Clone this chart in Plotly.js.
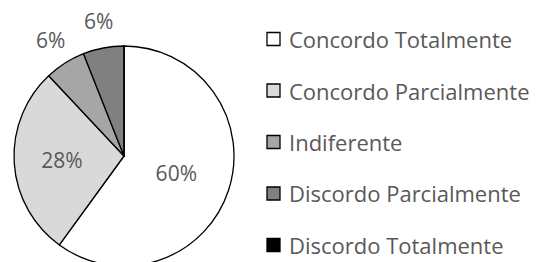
<!DOCTYPE html>
<html>
<head>
<meta charset="utf-8">
<script src="https://cdn.plot.ly/plotly-3.0.1.min.js"></script>
<style>
html,body{margin:0;padding:0;overflow:hidden;background:#fff;}
#chart{width:542px;height:266px;}
</style>
</head>
<body>
<div id="chart"></div>
<script>
const categories = ['Concordo Totalmente','Concordo Parcialmente','Indiferente','Discordo Parcialmente','Discordo Totalmente'];
const values = [60, 28, 6, 6, 0];
const colors = ['#ffffff','#d9d9d9','#a6a6a6','#808080','#000000'];
const labelPlacement = ['inside','inside','outside','outside','none'];

const W = 542, H = 266;
const cx = 124, cy = 156, R = 110;
const FONT = 'Open Sans, sans-serif';
const TXT = '#595959';

const trace = {
  type: 'pie',
  labels: categories,
  values: values,
  sort: false,
  direction: 'clockwise',
  rotation: 0,
  marker: {colors: colors, line: {color: '#000000', width: 1.3}},
  textinfo: 'percent',
  textposition: labelPlacement.map(p => p === 'inside' ? 'inside' : 'none'),
  insidetextfont: {family: FONT, size: 21, color: TXT},
  domain: {x: [(cx - R) / W, (cx + R) / W], y: [(H - cy - R) / H, (H - cy + R) / H]},
  showlegend: false,
  hoverinfo: 'none'
};

const shapes = [], annotations = [];

// Outside percentage labels, placed from each slice's mid-angle
const total = values.reduce((a, b) => a + b, 0);
let cum = 0;
values.forEach((v, i) => {
  const mid = (cum + v / 2) / total * 2 * Math.PI;
  cum += v;
  if (labelPlacement[i] !== 'outside') return;
  const r = R * 1.25;
  const px = cx + r * Math.sin(mid), py = cy - r * Math.cos(mid);
  annotations.push({xref: 'paper', yref: 'paper', x: px / W, y: 1 - py / H,
    xanchor: 'center', yanchor: 'middle', showarrow: false,
    text: Math.round(v / total * 100) + '%',
    font: {family: FONT, size: 21, color: TXT}});
});

// Legend drawn from the category / colour arrays
const rowY0 = 39, rowGap = 51.5, sq = 13, sqX = 267, txtX = 287;
categories.forEach((c, i) => {
  const y = rowY0 + i * rowGap;
  shapes.push({type: 'rect', xref: 'paper', yref: 'paper',
    x0: sqX / W, x1: (sqX + sq) / W, y0: 1 - (y - sq / 2) / H, y1: 1 - (y + sq / 2) / H,
    fillcolor: colors[i], line: {color: '#000000', width: 1.3}});
  annotations.push({xref: 'paper', yref: 'paper', x: txtX / W, y: 1 - y / H,
    xanchor: 'left', yanchor: 'middle', showarrow: false, text: c,
    font: {family: FONT, size: 22, color: TXT}});
});

const layout = {
  width: W, height: H,
  margin: {l: 0, r: 0, t: 0, b: 0},
  paper_bgcolor: '#ffffff',
  shapes: shapes,
  annotations: annotations
};

Plotly.newPlot('chart', [trace], layout, {displayModeBar: false, staticPlot: true});
</script>
</body>
</html>
